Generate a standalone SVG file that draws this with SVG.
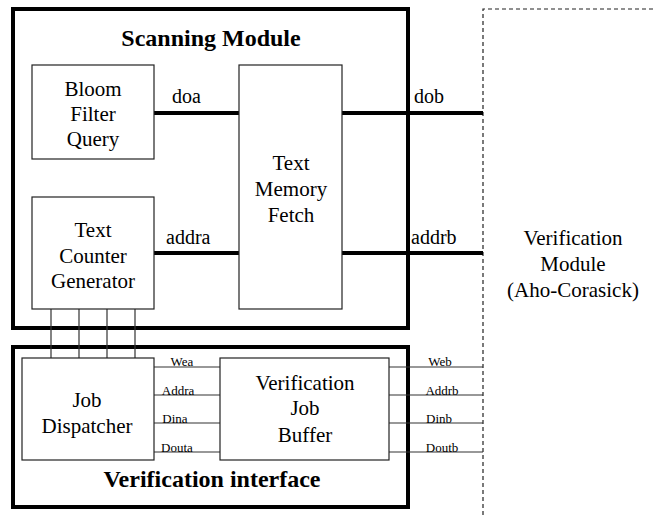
<svg xmlns="http://www.w3.org/2000/svg" width="654" height="515" viewBox="0 0 654 515">
<style>
text{font-family:"Liberation Serif","Times New Roman",serif;fill:#000;text-anchor:middle}
.t{font-size:21px}
.h{font-size:24px;font-weight:bold}
.s{font-size:13px}
.l{font-size:20px;text-anchor:start}
.box{fill:#fff;stroke:#222;stroke-width:1.2}
.frame{fill:none;stroke:#000;stroke-width:4}
.thick{stroke:#000;stroke-width:4;fill:none}
.thin{stroke:#333;stroke-width:1.2;fill:none}
.dash{stroke:#222;stroke-width:1.2;stroke-dasharray:4,3;fill:none}
</style>
<rect width="654" height="515" fill="#fff"/>
<g id="verification-module">
<path class="dash" d="M483,515 V9 H654"/>
<text class="t" x="573" y="245">Verification</text>
<text class="t" x="573" y="271">Module</text>
<text class="t" x="573" y="297">(Aho-Corasick)</text>
</g>
<g id="scanning-module">
<rect class="frame" x="13" y="9" width="395" height="319"/>
<text class="h" x="211" y="46">Scanning Module</text>
</g>
<g id="verification-interface">
<rect class="frame" x="13" y="347" width="395" height="160"/>
<text class="h" x="212" y="487">Verification interface</text>
</g>
<g id="connectors">
<line class="thick" x1="154" y1="113" x2="239" y2="113"/>
<line class="thick" x1="342" y1="113" x2="483" y2="113"/>
<line class="thick" x1="154" y1="253" x2="239" y2="253"/>
<line class="thick" x1="342" y1="253" x2="483" y2="253"/>
<path class="thin" d="M51,309V358M79,309V358M107,309V358M135,309V358"/>
<path class="thin" d="M154,367H220M154,395H220M154,423H220M154,452H220"/>
<path class="thin" d="M389,367H483M389,395H483M389,423H483M389,452H483"/>
<text class="l" x="172" y="103">doa</text>
<text class="l" x="414" y="103">dob</text>
<text class="l" x="166" y="244">addra</text>
<text class="l" x="411" y="244">addrb</text>
<text class="s" x="182" y="366">Wea</text>
<text class="s" x="178" y="395">Addra</text>
<text class="s" x="175" y="423">Dina</text>
<text class="s" x="177" y="452">Douta</text>
<text class="s" x="440" y="366">Web</text>
<text class="s" x="442" y="395">Addrb</text>
<text class="s" x="439" y="423">Dinb</text>
<text class="s" x="442" y="452">Doutb</text>
</g>
<g id="bloom-filter-query">
<rect class="box" x="32" y="65" width="122" height="94"/>
<text class="t" x="93" y="96">Bloom</text>
<text class="t" x="93" y="121">Filter</text>
<text class="t" x="93" y="146">Query</text>
</g>
<g id="text-memory-fetch">
<rect class="box" x="239" y="65" width="103" height="244"/>
<text class="t" x="291" y="170">Text</text>
<text class="t" x="291" y="196">Memory</text>
<text class="t" x="291" y="222">Fetch</text>
</g>
<g id="text-counter-generator">
<rect class="box" x="32" y="197" width="122" height="112"/>
<text class="t" x="93" y="237">Text</text>
<text class="t" x="93" y="263">Counter</text>
<text class="t" x="93" y="288">Generator</text>
</g>
<g id="job-dispatcher">
<rect class="box" x="22" y="358" width="132" height="102"/>
<text class="t" x="87" y="407">Job</text>
<text class="t" x="87" y="433">Dispatcher</text>
</g>
<g id="verification-job-buffer">
<rect class="box" x="220" y="358" width="169" height="102"/>
<text class="t" x="305" y="390">Verification</text>
<text class="t" x="305" y="415">Job</text>
<text class="t" x="305" y="442">Buffer</text>
</g>
</svg>
